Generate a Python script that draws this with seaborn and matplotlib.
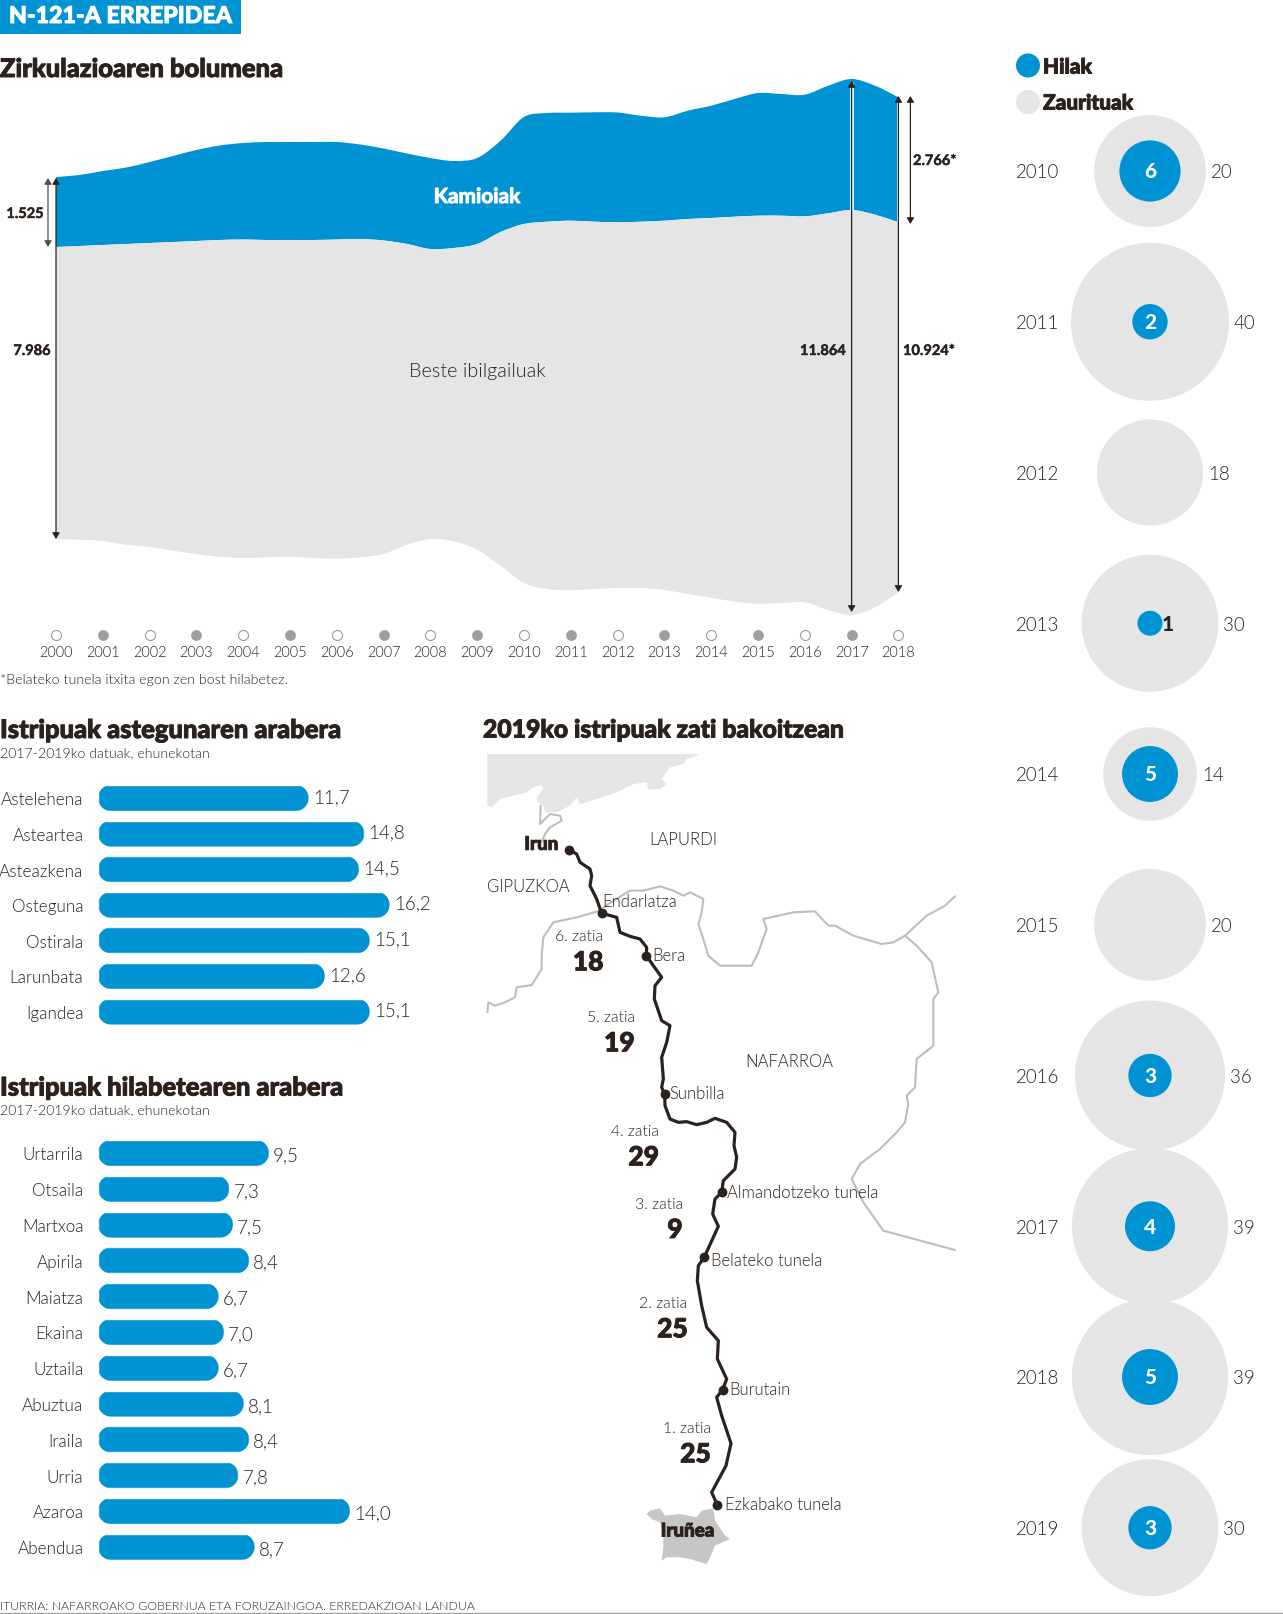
import matplotlib
matplotlib.use("Agg")
import matplotlib.pyplot as plt
import matplotlib.patheffects as pe
from matplotlib.patches import PathPatch, Rectangle
from matplotlib.path import Path
from matplotlib.transforms import IdentityTransform
import numpy as np
import pandas as pd
import seaborn as sns

BLUE = "#0093d3"
GREY = "#e5e5e5"
DARK = "#2b221d"
BORDER = "#bdbdbd"
LIGHT = 300

# zirkulazioa: band edges, every half year
urteak = np.arange(2000, 2018.5, 0.5)
kamioi_goia = [178, 176, 172, 168.5, 163, 157, 151, 146.5, 144, 143, 143, 143, 143, 145.5, 149.5, 154.5, 159, 162, 159,
               141.7, 118, 114, 113.7, 113.3, 113.5, 116.7, 118.3, 111.7, 106.7, 100, 94, 95, 95.7, 86.7, 80, 86.7, 98.3]
beste_goia = [248, 247, 246, 245, 244, 243, 242, 241, 240.5, 241, 241, 241, 240.5, 240, 241.5, 245, 250, 249, 245,
              233, 225, 222.7, 221.7, 222.7, 223.3, 222.7, 221.7, 220, 219, 217.7, 216.7, 216.7, 217.3, 214.3, 211, 215.7, 223.3]
beste_behea = [540, 540.7, 542, 545.7, 548, 551.7, 555, 557.7, 559, 558.3, 557.7, 559, 559.7, 558.3, 555, 545.7, 540, 542.3, 550.7,
               566.7, 584, 590, 591.3, 590, 589, 589, 591, 595, 598.7, 602.7, 604.7, 604, 603.3, 611, 616, 608.3, 593.3]
urte_etiketak = list(range(2000, 2019))

egunak = ["Astelehena", "Asteartea", "Asteazkena", "Osteguna", "Ostirala", "Larunbata", "Igandea"]
egun_balioak = [11.7, 14.8, 14.5, 16.2, 15.1, 12.6, 15.1]

hilabeteak = ["Urtarrila", "Otsaila", "Martxoa", "Apirila", "Maiatza", "Ekaina", "Uztaila",
              "Abuztua", "Iraila", "Urria", "Azaroa", "Abendua"]
hil_balioak = [9.5, 7.3, 7.5, 8.4, 6.7, 7.0, 6.7, 8.1, 8.4, 7.8, 14.0, 8.7]

bubble_urteak = [2010, 2011, 2012, 2013, 2014, 2015, 2016, 2017, 2018, 2019]
zaurituak = [20, 40, 18, 30, 14, 20, 36, 39, 39, 30]
hilak = [6, 2, 0, 1, 5, 0, 3, 4, 5, 3]

# map outlines, in map units
kosta = [(52, 165), (682, 165), (682, 170), (650, 180), (640, 195), (600, 205), (585, 225), (575, 240), (590, 255),
         (570, 270), (535, 272), (530, 250), (490, 255), (440, 280), (380, 300), (330, 315), (320, 295), (300, 320),
         (260, 340), (225, 340), (220, 320), (205, 310), (200, 295), (220, 270), (215, 258), (190, 265), (170, 280),
         (130, 290), (90, 300), (65, 325), (52, 320)]
ibaia = [(212, 320), (210, 375), (240, 345), (270, 350), (275, 365), (240, 385), (225, 405), (215, 430)]
muga1 = [(52, 940), (55, 910), (75, 920), (105, 910), (135, 895), (140, 865), (185, 858), (215, 810), (215, 770),
         (220, 715), (250, 670), (320, 655), (390, 635)]
muga2 = [(400, 625), (455, 590), (480, 575), (520, 575), (570, 562), (610, 575), (640, 590), (660, 580), (700, 600),
         (695, 640), (685, 675), (700, 720), (715, 770), (750, 800), (845, 800), (865, 760), (890, 690), (880, 660),
         (970, 640), (1035, 637), (1075, 680), (1095, 680), (1150, 710), (1235, 735), (1270, 730), (1305, 710),
         (1370, 650), (1425, 620), (1455, 592)]
muga3 = [(1305, 710), (1340, 740), (1385, 790), (1405, 880), (1390, 900), (1390, 1040), (1340, 1080), (1335, 1165),
         (1310, 1190), (1315, 1215), (1305, 1270), (1280, 1300), (1230, 1350), (1170, 1395), (1145, 1440), (1180, 1510),
         (1240, 1595), (1455, 1653)]
errepidea = [(297, 452), (320, 465), (330, 490), (360, 510), (365, 530), (360, 560), (380, 600), (395, 643), (440, 655),
             (450, 700), (480, 712), (510, 720), (530, 745), (529, 770), (550, 800), (575, 835), (555, 860), (553, 900),
             (570, 950), (575, 965), (600, 980), (590, 1030), (575, 1075), (580, 1140), (575, 1165), (584, 1186),
             (585, 1220), (600, 1260), (625, 1270), (650, 1268), (680, 1277), (710, 1270), (735, 1258), (770, 1270),
             (795, 1300), (792, 1340), (800, 1375), (795, 1410), (760, 1445), (755, 1480), (735, 1500), (728, 1545),
             (745, 1582), (703, 1674), (685, 1700), (682, 1745), (695, 1820), (710, 1885), (745, 1925), (742, 1980),
             (770, 2040), (758, 2072), (740, 2095), (755, 2150), (783, 2233), (768, 2300), (725, 2380), (742, 2418)]
geltokiak = [(297, 452), (395, 643), (529, 770), (584, 1186), (755, 1478), (703, 1674), (758, 2072), (742, 2418)]
iruñea = [(530, 2445), (540, 2435), (570, 2428), (585, 2450), (630, 2445), (680, 2455), (695, 2435), (730, 2428),
          (735, 2465), (765, 2510), (780, 2520), (735, 2540), (720, 2575), (710, 2595), (660, 2580), (630, 2575),
          (590, 2575), (575, 2585), (580, 2540), (580, 2500), (570, 2470), (545, 2460)]

W, H = 1283, 1615
sns.set_theme(style="white")
plt.rcParams["font.family"] = ["Lato", "DejaVu Sans"]
plt.rcParams["text.color"] = DARK

fig = plt.figure(figsize=(W / 100, H / 100), dpi=100, facecolor="white")

heavy = [pe.withStroke(linewidth=0.7, foreground=DARK)]
heavy_w = [pe.withStroke(linewidth=0.7, foreground="white")]


def px_axes(x0, y0, x1, y1):
    ax = fig.add_axes([x0 / W, 1 - y1 / H, (x1 - x0) / W, (y1 - y0) / H])
    ax.patch.set_alpha(0)
    sns.despine(ax=ax, left=True, bottom=True)
    return ax


def curve_codes(xs, ys):
    # bezier segments through the read values
    p = np.column_stack([xs, ys])
    verts, codes = [], []
    for i in range(len(p) - 1):
        m0 = (p[i + 1] - p[max(i - 1, 0)]) / 6
        m1 = (p[min(i + 2, len(p) - 1)] - p[i]) / 6
        verts += [p[i] + m0, p[i + 1] - m1, p[i + 1]]
        codes += [Path.CURVE4] * 3
    return verts, codes


def band(ax, xs, top, bottom, color):
    v1, c1 = curve_codes(xs, top)
    v2, c2 = curve_codes(xs[::-1], bottom[::-1])
    verts = [(xs[0], top[0])] + v1 + [(xs[-1], bottom[-1])] + v2 + [(xs[0], top[0])]
    codes = [Path.MOVETO] + c1 + [Path.LINETO] + c2 + [Path.LINETO]
    ax.add_patch(PathPatch(Path(verts, codes), facecolor=color, edgecolor="none", lw=0))


def pill(bb):
    r = bb.height / 2
    cy = (bb.y0 + bb.y1) / 2
    left = Path.arc(90, 270)
    right = Path.arc(-90, 90)
    verts = np.vstack([left.vertices * r + [bb.x0 + r, cy], right.vertices * r + [bb.x1 - r, cy], [[bb.x0 + r, bb.y1]]])
    codes = list(left.codes) + [Path.LINETO] + list(right.codes[1:]) + [Path.CLOSEPOLY]
    return Path(verts, codes)


# stream
ax = px_axes(0, 60, 960, 645)
ax.set_xlim(2000 - 56 / 46.8, 2000 + 904 / 46.8)
ax.set_ylim(645, 60)
band(ax, urteak, kamioi_goia, beste_goia, BLUE)
band(ax, urteak, beste_goia, beste_behea, GREY)
ax.set_yticks([])
ax.set_xticks(urte_etiketak)
ax.set_xticklabels(urte_etiketak, fontsize=10.5, color=DARK, fontweight=LIGHT)
ax.tick_params(axis="x", length=0, pad=1)
urte_df = pd.DataFrame({"urtea": urte_etiketak, "y": 636})
sns.scatterplot(data=urte_df[urte_df.urtea % 2 == 0], x="urtea", y="y", s=52, color="white",
                edgecolor="#9a9a9a", linewidth=0.8, ax=ax, clip_on=False)
sns.scatterplot(data=urte_df[urte_df.urtea % 2 == 1], x="urtea", y="y", s=60, color="#a19d9b",
                linewidth=0, ax=ax, clip_on=False)
ax.set_xlabel("")
ax.set_ylabel("")


def gezi(x, y0, y1, col=DARK, lw=0.9):
    ax.annotate("", xy=(x, y0), xytext=(x, y1),
                arrowprops=dict(arrowstyle="<|-|>,head_width=0.18,head_length=0.3", color=col, lw=lw,
                                shrinkA=0, shrinkB=0))


ax.plot([2017, 2017], [84, 212], color="white", lw=2.6, solid_capstyle="butt")
ax.plot([2018, 2018], [100, 223], color="white", lw=2.0, solid_capstyle="butt")
gezi(2000 - 8 / 46.8, 179, 248, "#555049")
gezi(2000, 179, 540)
gezi(2017, 82, 613)
gezi(2018, 97, 593)
gezi(2018 + 12 / 46.8, 97, 225)

# map
am = px_axes(470, 700, 970, 1615)
am.set_xlim(0, 1500)
am.set_ylim(2745, 0)
am.set_xticks([])
am.set_yticks([])
am.fill(*zip(*kosta), color=GREY, lw=0)
am.fill(*zip(*iruñea), color="#c6c6c6", lw=0)
for muga in [muga1, muga2, muga3, ibaia]:
    xm, ym = zip(*muga)
    sns.lineplot(x=list(xm), y=list(ym), sort=False, estimator=None, color=BORDER, lw=1.5, ax=am,
                 solid_joinstyle="round")
xr, yr = zip(*errepidea)
sns.lineplot(x=list(xr), y=list(yr), sort=False, estimator=None, color=DARK, lw=2.3, ax=am, solid_joinstyle="round")
xg, yg = zip(*geltokiak)
sns.scatterplot(x=list(xg), y=list(yg), s=50, color=DARK, linewidth=0, ax=am, zorder=5)
am.set_xlim(0, 1500)
am.set_ylim(2745, 0)

map_label = dict(fontsize=12, fontweight=LIGHT, va="center", ha="left")
map_zati = dict(fontsize=11.3, fontweight=LIGHT, va="center", ha="right")
map_num = dict(fontsize=19, fontweight="black", va="center", ha="right", path_effects=heavy)
map_bold = dict(fontsize=13.5, fontweight="black", va="center", ha="left", path_effects=heavy)
am.text(163, 436, "Irun", **map_bold)
am.text(572, 2496, "Iruñea", **map_bold)
for x, y, s in [(537, 420, "LAPURDI"), (52, 562, "GIPUZKOA"), (398, 607, "Endarlatza"), (546, 768, "Bera"),
                (827, 1085, "NAFARROA"), (597, 1183, "Sunbilla"), (772, 1478, "Almandotzeko tunela"),
                (724, 1682, "Belateko tunela"), (779, 2070, "Burutain"), (765, 2415, "Ezkabako tunela")]:
    am.text(x, y, s, **map_label)
for x, y, s in [(400, 712, "6. zatia"), (494, 955, "5. zatia"), (567, 1297, "4. zatia"), (640, 1515, "3. zatia"),
                (653, 1812, "2. zatia"), (722, 2188, "1. zatia")]:
    am.text(x, y, s, **map_zati)
for x, y, s in [(400, 790, "18"), (494, 1033, "19"), (567, 1375, "29"), (638, 1593, "9"),
                (653, 1891, "25"), (722, 2266, "25")]:
    am.text(x, y, s, **map_num)


# bars
def barrak(names, values, y0, step, lift):
    top = y0 - step / 2
    a = px_axes(98, top, 450, top + step * len(names))
    df = pd.DataFrame({"izena": names, "balioa": values})
    sns.barplot(data=df, y="izena", x="balioa", orient="h", color=BLUE, saturation=1, width=0.73, ax=a)
    a.set_xlim(0, 352 / 18)
    a.set_xlabel("")
    a.set_ylabel("")
    a.set_xticks([])
    a.tick_params(axis="y", length=0, pad=10.5, labelsize=12.3)
    for t in a.get_yticklabels():
        t.set_fontweight(LIGHT)
        t.set_color(DARK)
    fig.canvas.draw()
    for bar in a.patches:
        bar.set_clip_path(pill(bar.get_window_extent()), IdentityTransform())
    labels = [str(v).replace(".", ",") for v in values]
    for t in a.bar_label(a.containers[0], labels=labels, padding=3, fontsize=13.5, fontweight=LIGHT, color=DARK):
        t.xyann = (t.xyann[0], lift)
        t.set_clip_on(False)
    return a


barrak(egunak, egun_balioak, 799, 35.6, 1)
barrak(hilabeteak, hil_balioak, 1154, 35.8, -1.5)

# overlay in pixels: titles, bubbles
ap = px_axes(0, 0, W, H)
ap.set_xlim(0, W)
ap.set_ylim(H, 0)
ap.set_xticks([])
ap.set_yticks([])
ap.add_patch(Rectangle((0, 0), 241, 34.5, color=BLUE, lw=0))
ap.text(9, 17.5, "N-121-A ERREPIDEA", color="white", fontsize=16.7, fontweight="black", va="center", ha="left",
        path_effects=heavy_w)
for x, y, s in [(0, 70, "Zirkulazioaren bolumena"), (0, 731, "Istripuak astegunaren arabera"),
                (0, 1088.5, "Istripuak hilabetearen arabera")]:
    ap.text(x, y, s, fontsize=18.4, fontweight="black", va="center", ha="left", path_effects=heavy)
ap.text(483, 731, "2019ko istripuak zati bakoitzean", fontsize=17.8, fontweight="black", va="center", ha="left",
        path_effects=heavy)
for y in [753, 1110]:
    ap.text(0, y, "2017-2019ko datuak, ehunekotan", fontsize=10.2, fontweight=LIGHT, va="center", ha="left")
ap.text(0, 680, "*Belateko tunela itxita egon zen bost hilabetez.", fontsize=10.3, fontweight=LIGHT, va="center", ha="left")
ap.text(0, 1607, "ITURRIA: NAFARROAKO GOBERNUA ETA FORUZAINGOA. ERREDAKZIOAN LANDUA", fontsize=8.9, fontweight=LIGHT,
        va="center", ha="left")
ap.plot([0, W], [1614, 1614], color="#a8a29e", lw=1)
ap.text(477, 198, "Kamioiak", color="white", fontsize=15, fontweight="bold", va="center", ha="center", path_effects=heavy_w)
ap.text(477, 372, "Beste ibilgailuak", fontsize=14.2, fontweight=LIGHT, va="center", ha="center")
balio = dict(fontsize=10.5, fontweight="bold", va="center", path_effects=[pe.withStroke(linewidth=0.3, foreground=DARK)])
ap.text(25, 215, "1.525", ha="center", **balio)
ap.text(32, 352, "7.986", ha="center", **balio)
ap.text(846, 352, "11.864", ha="right", **balio)
ap.text(903, 352, "10.924*", ha="left", **balio)
ap.text(913, 162, "2.766*", ha="left", **balio)

CX = 1150
FIRST, STEP = 172, 150.75
bub = pd.DataFrame({"urtea": bubble_urteak, "zauri": zaurituak, "hil": hilak})
bub["x"] = CX
bub["y"] = FIRST + STEP * (bub.urtea - 2010)
# 12.5 px per sqrt(person), area scale shared by both series
sns.scatterplot(data=bub, x="x", y="y", s=bub.zauri * 324, color=GREY, linewidth=0, ax=ap, clip_on=False)
dead = bub[bub.hil > 0]
sns.scatterplot(data=dead, x="x", y="y", s=dead.hil * 324, color=BLUE, linewidth=0, ax=ap, clip_on=False)
for _, r in bub.iterrows():
    ap.text(1016, r.y + 1, str(int(r.urtea)), fontsize=13.5, fontweight=LIGHT, va="center", ha="left")
    ap.text(CX + 12.5 * np.sqrt(r.zauri) + 5, r.y + 1, str(int(r.zauri)), fontsize=13.5, fontweight=LIGHT, va="center", ha="left")
    if r.hil > 1:
        ap.text(CX, r.y, str(int(r.hil)), color="white", fontsize=15, fontweight="black", va="center", ha="center")
    elif r.hil == 1:
        ap.text(CX + 18, r.y, "1", fontsize=15, fontweight="black", va="center", ha="center")
sns.scatterplot(x=[1028, 1028], y=[66.5, 103], hue=["Hilak", "Zaurituak"], palette=[BLUE, GREY], s=300, linewidth=0,
                ax=ap, legend=False)
ap.text(1043, 68, "Hilak", fontsize=15, fontweight="black", va="center", ha="left", path_effects=heavy)
ap.text(1043, 104, "Zaurituak", fontsize=15, fontweight="black", va="center", ha="left", path_effects=heavy)
ap.set_xlim(0, W)
ap.set_ylim(H, 0)
ap.set_xlabel("")
ap.set_ylabel("")

fig.savefig("out.png", dpi=100)
